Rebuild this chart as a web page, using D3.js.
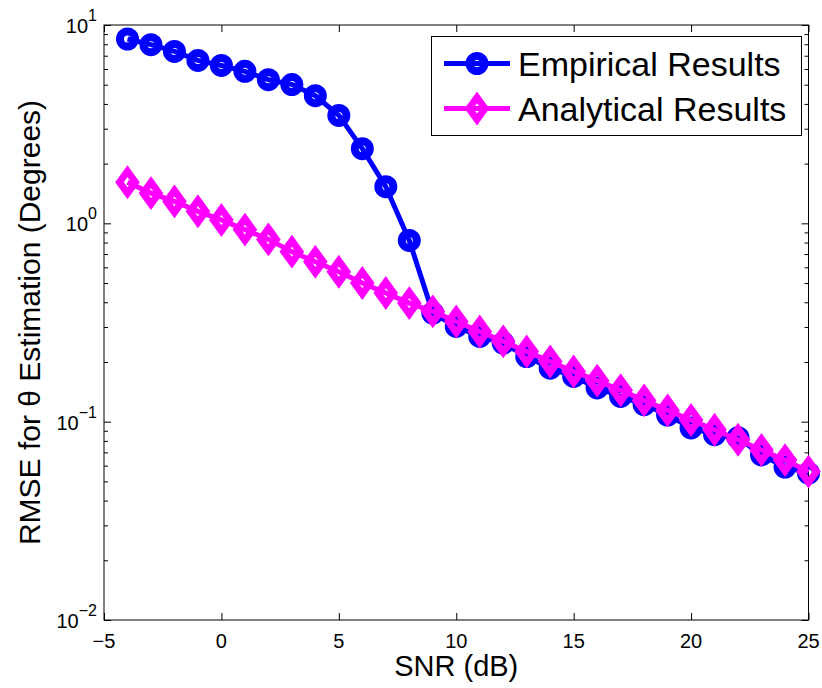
<!DOCTYPE html>
<html>
<head>
<meta charset="utf-8">
<script src="https://cdn.jsdelivr.net/npm/d3@7"></script>
<style>
  body { margin: 0; background: #fff; }
  svg { font-family: "Liberation Sans", Arial, Helvetica, sans-serif; }
  .frame { fill: none; stroke: #000; stroke-width: 1; }
  .tick line { stroke: #000; stroke-width: 1; }
</style>
</head>
<body>
<script>
// SNR values (dB)
var snr = [-4, -3, -2, -1, 0, 1, 2, 3, 4, 5, 6, 7, 8, 9, 10,
           11, 12, 13, 14, 15, 16, 17, 18, 19, 20, 21, 22, 23, 24, 25];

// RMSE in degrees
var empirical = [8.5, 7.96, 7.36, 6.63, 6.25, 5.84, 5.30, 5.01, 4.40, 3.50,
                 2.38, 1.53, 0.82, 0.353, 0.302, 0.269, 0.249, 0.213, 0.186, 0.169,
                 0.148, 0.134, 0.122, 0.108, 0.093, 0.086, 0.083, 0.068, 0.059, 0.055];
var analytical = [1.61, 1.42, 1.29, 1.15, 1.04, 0.93, 0.83, 0.72, 0.64, 0.57,
                  0.50, 0.445, 0.396, 0.36, 0.32, 0.285, 0.254, 0.226, 0.201, 0.179,
                  0.161, 0.144, 0.128, 0.114, 0.102, 0.091, 0.081, 0.072, 0.064, 0.056];

var xTicks = [-5, 0, 5, 10, 15, 20, 25];
var yTicks = [0.01, 0.1, 1, 10];
var yExponents = ["\u22122", "\u22121", "0", "1"];
var seriesNames = ["Empirical Results", "Analytical Results"];
var seriesColors = ["#0000ff", "#ff00ff"];

var _width = 822,
    _height = 688,
    _margins = {top: 25, left: 104, right: 13.5, bottom: 68};

var svg = d3.select("body").append("svg")
    .attr("width", _width)
    .attr("height", _height);

var x = d3.scaleLinear()
    .domain([-5, 25])
    .range([_margins.left, _width - _margins.right]);

var y = d3.scaleLog()
    .domain([0.01, 10])
    .range([_height - _margins.bottom, _margins.top]);

var x0 = x.range()[0], x1 = x.range()[1],
    y0 = y.range()[0], y1 = y.range()[1];

// minor log ticks
var minor = [];
[0.01, 0.1, 1].forEach(function(p) {
    for (var k = 2; k <= 9; k++) minor.push(p * k);
});

// axes (ticks inward, all four sides)
var axesG = svg.append("g").attr("class", "axes");

axesG.append("g")
    .attr("class", "x axis")
    .attr("transform", "translate(0," + y0 + ")")
    .call(d3.axisBottom(x).tickValues(xTicks).tickSizeInner(-7).tickSizeOuter(0).tickFormat(""))
    .call(function(g) { g.select(".domain").remove(); });

axesG.append("g")
    .attr("class", "x axis top")
    .attr("transform", "translate(0," + y1 + ")")
    .call(d3.axisTop(x).tickValues(xTicks).tickSizeInner(-7).tickSizeOuter(0).tickFormat(""))
    .call(function(g) { g.select(".domain").remove(); });

[[x0, d3.axisLeft], [x1, d3.axisRight]].forEach(function(a) {
    axesG.append("g")
        .attr("transform", "translate(" + a[0] + ",0)")
        .call(a[1](y).tickValues(yTicks).tickSizeInner(-7).tickSizeOuter(0).tickFormat(""))
        .call(function(g) { g.select(".domain").remove(); });
    axesG.append("g")
        .attr("transform", "translate(" + a[0] + ",0)")
        .call(a[1](y).tickValues(minor).tickSizeInner(-4).tickSizeOuter(0).tickFormat(""))
        .call(function(g) { g.select(".domain").remove(); });
});

axesG.append("rect")
    .attr("class", "frame")
    .attr("x", x0)
    .attr("y", y1)
    .attr("width", x1 - x0)
    .attr("height", y0 - y1);

// x tick labels
axesG.selectAll("text.xlab")
    .data(xTicks)
    .enter().append("text")
    .attr("class", "xlab")
    .attr("x", function(d) { return x(d); })
    .attr("y", y0 + 28)
    .attr("text-anchor", "middle")
    .attr("font-size", 20)
    .text(function(d) { return d < 0 ? "\u2212" + Math.abs(d) : d; });

// y tick labels 10^n
var ylab = axesG.selectAll("text.ylab")
    .data(yTicks)
    .enter().append("text")
    .attr("class", "ylab")
    .attr("x", x0 - 7)
    .attr("y", function(d) { return y(d) + 8; })
    .attr("text-anchor", "end")
    .attr("font-size", 20);
ylab.append("tspan").text("10");
ylab.append("tspan")
    .attr("dy", -12)
    .attr("font-size", 16)
    .text(function(d, i) { return yExponents[i]; });

// axis titles
svg.append("text")
    .attr("x", (x0 + x1) / 2)
    .attr("y", 676)
    .attr("text-anchor", "middle")
    .attr("font-size", 29)
    .text("SNR (dB)");

svg.append("text")
    .attr("transform", "translate(40," + ((y0 + y1) / 2) + ") rotate(-90)")
    .attr("text-anchor", "middle")
    .attr("font-size", 30)
    .text("RMSE for \u03b8 Estimation (Degrees)");

// series
var line = d3.line()
    .x(function(d) { return x(d[0]); })
    .y(function(d) { return y(d[1]); });

var diamond = "M0,-11L8,0L0,11L-8,0Z";

function drawMarker(g, type, color) {
    if (type === 0) {
        g.append("circle")
            .attr("r", 7.5)
            .attr("fill", "none")
            .attr("stroke", color)
            .attr("stroke-width", 8);
    } else {
        g.append("path")
            .attr("d", diamond)
            .attr("fill", "none")
            .attr("stroke", color)
            .attr("stroke-width", 7)
            .attr("stroke-linejoin", "miter");
    }
}

var bodyG = svg.append("g").attr("class", "body");

[empirical, analytical].forEach(function(vals, i) {
    var pts = snr.map(function(s, j) { return [s, vals[j]]; });
    var sg = bodyG.append("g").attr("class", "series _" + i);
    sg.append("path")
        .attr("d", line(pts))
        .attr("fill", "none")
        .attr("stroke", seriesColors[i])
        .attr("stroke-width", 5)
        .attr("stroke-linejoin", "round");
    sg.selectAll("g.pt")
        .data(pts)
        .enter().append("g")
        .attr("class", "pt")
        .attr("transform", function(d) { return "translate(" + x(d[0]) + "," + y(d[1]) + ")"; })
        .each(function() { drawMarker(d3.select(this), i, seriesColors[i]); });
});

// legend
var legend = svg.append("g").attr("class", "legend");
legend.append("rect")
    .attr("x", 431.5)
    .attr("y", 36.5)
    .attr("width", 370)
    .attr("height", 99)
    .attr("fill", "#fff")
    .attr("stroke", "#000")
    .attr("stroke-width", 1);

seriesNames.forEach(function(name, i) {
    var ly = 63.5 + i * 45;
    var lg = legend.append("g");
    lg.append("line")
        .attr("x1", 444).attr("x2", 510)
        .attr("y1", ly).attr("y2", ly)
        .attr("stroke", seriesColors[i])
        .attr("stroke-width", 5);
    var mg = lg.append("g").attr("transform", "translate(477," + ly + ")");
    drawMarker(mg, i, seriesColors[i]);
    lg.append("text")
        .attr("x", 518)
        .attr("y", ly + 12)
        .attr("font-size", 34)
        .text(name);
});
</script>
</body>
</html>
